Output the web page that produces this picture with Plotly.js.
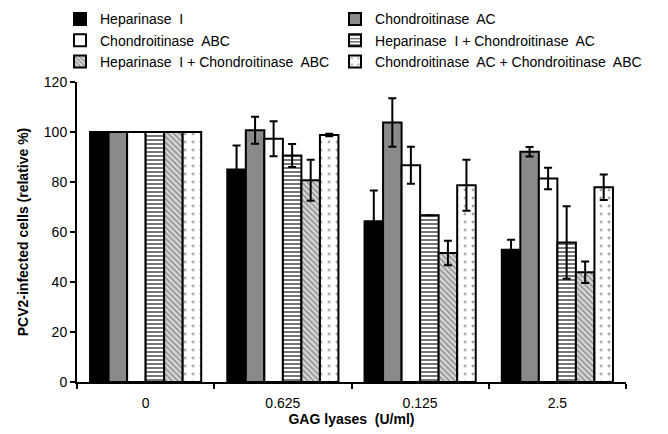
<!DOCTYPE html>
<html><head><meta charset="utf-8">
<script src="https://cdn.plot.ly/plotly-3.0.1.min.js"></script>
<style>html,body{margin:0;padding:0;background:#fff}#chart{width:668px;height:434px}</style>
</head><body><div id="chart"></div>
<script>
const categories = ["0", "0.625", "0.125", "2.5"];
const seriesNames = ["Heparinase  I", "Chondroitinase  AC", "Chondroitinase  ABC",
  "Heparinase  I + Chondroitinase  AC", "Heparinase  I + Chondroitinase  ABC",
  "Chondroitinase  AC + Chondroitinase  ABC"];
const hepI      = [100, 85, 64.3, 52.9];
const chondAC   = [100, 100.7, 103.8, 92.1];
const chondABC  = [100, 97.3, 86.7, 81.4];
const hepAC     = [100, 90.6, 66.7, 55.8];
const hepABC    = [100, 80.7, 51.6, 43.9];
const acABC     = [100, 98.8, 78.7, 77.9];
const errHepI     = [0, 9.6, 12.3, 4];
const errChondAC  = [0, 5.4, 9.7, 1.9];
const errChondABC = [0, 7, 7.4, 4.3];
const errHepAC    = [0, 4.6, 0, 14.5];
const errHepABC   = [0, 8.2, 4.9, 4.3];
const errAcABC    = [0, 0.5, 10.2, 5.1];

const values = [hepI, chondAC, chondABC, hepAC, hepABC, acABC];
const errs = [errHepI, errChondAC, errChondABC, errHepAC, errHepABC, errAcABC];
const legendColumn = ["legend", "legend2", "legend", "legend2", "legend", "legend2"];
const styles = [
  {color: "#000000"},
  {color: "#8a8a8a"},
  {color: "#ffffff"},
  {color: "#ffffff", pattern: {shape: "-", fgcolor: "#666", bgcolor: "#ffffff", size: 4, solidity: 0.45}},
  {color: "#cccccc", pattern: {shape: "\\", fgcolor: "#808080", bgcolor: "#d6d6d6", size: 4, solidity: 0.3}},
  {color: "#ffffff", pattern: {shape: ".", fgcolor: "#a8a8a8", bgcolor: "#ffffff", size: 8, solidity: 0.1}}
];

const traces = values.map((v, i) => ({
  type: "bar", name: seriesNames[i], x: categories, y: v, legend: legendColumn[i],
  error_y: {type: "data", array: errs[i], visible: true, color: "#000", thickness: 2, width: 4},
  marker: Object.assign({line: {color: "#000", width: 2}}, styles[i])
}));

const font = {family: "Liberation Sans, Arial, sans-serif", color: "#000"};
const legendBase = {orientation: "v", yanchor: "top", xanchor: "left", y: 1.262,
  traceorder: "normal", tracegroupgap: 0, bgcolor: "rgba(0,0,0,0)",
  font: Object.assign({size: 14}, font)};
const layout = {
  width: 668, height: 434,
  margin: {l: 77, r: 42, t: 82, b: 52, autoexpand: false},
  paper_bgcolor: "#fff", plot_bgcolor: "#fff",
  font: Object.assign({size: 14}, font),
  barmode: "group", bargap: 0.19, bargroupgap: 0,
  showlegend: true,
  legend: Object.assign({x: -0.031}, legendBase),
  legend2: Object.assign({x: 0.47}, legendBase),
  xaxis: {type: "category", showline: true, linecolor: "#000", linewidth: 2,
    ticks: "outside", tickson: "boundaries", ticklen: 5, tickwidth: 2, tickcolor: "#000",
    ticklabelstandoff: 7,
    tickfont: Object.assign({size: 14}, font), showgrid: false, zeroline: false,
    title: {text: "<b>GAG lyases  (U/ml)</b>", font: Object.assign({size: 14}, font), standoff: 3}},
  yaxis: {range: [0, 120], dtick: 20, showline: true, linecolor: "#000", linewidth: 2,
    ticks: "outside", ticklen: 5, tickwidth: 2, tickcolor: "#000", showgrid: false, zeroline: false,
    tickfont: Object.assign({size: 14}, font),
    title: {text: "<b>PCV2-infected cells (relative %)</b>", font: Object.assign({size: 14}, font), standoff: 12}}
};
Plotly.newPlot("chart", traces, layout, {displayModeBar: false, staticPlot: true});
</script></body></html>
